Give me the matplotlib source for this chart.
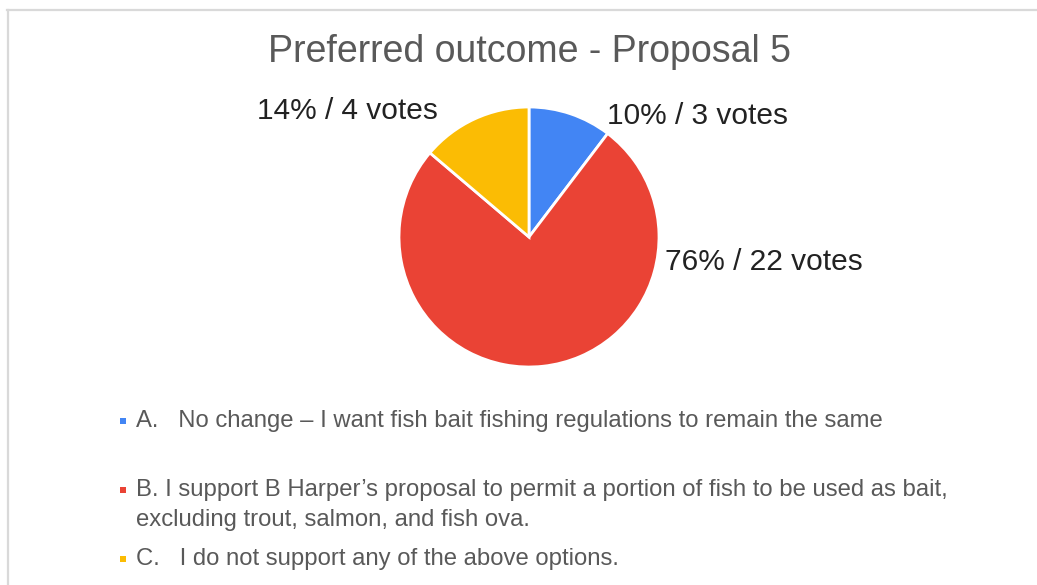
import matplotlib.pyplot as plt
from matplotlib.patches import Rectangle
from matplotlib.lines import Line2D

plt.rcParams['font.family'] = ['Liberation Sans', 'DejaVu Sans']

# survey results
options = ['A', 'B', 'C']
votes = [3, 22, 4]
colors = ['#4285F4', '#EA4335', '#FBBC04']
legend_text = [
    ['A.   No change \u2013 I want fish bait fishing regulations to remain the same'],
    ['B. I support B Harper\u2019s proposal to permit a portion of fish to be used as bait,',
     'excluding trout, salmon, and fish ova.'],
    ['C.   I do not support any of the above options.'],
]
title = 'Preferred outcome - Proposal 5'

W, H = 1037, 585
fig = plt.figure(figsize=(W / 100, H / 100), dpi=100)


def fx(x):
    return x / W


def fy(y):
    return 1 - y / H


# frame lines (top and left)
fig.add_artist(Line2D([fx(7), 1], [fy(10), fy(10)], color='#d9d9d9', lw=1.6))
fig.add_artist(Line2D([fx(8), fx(8)], [fy(10), 0], color='#d9d9d9', lw=1.6))

fig.text(fx(529), fy(52), title, ha='center', va='center',
         fontsize=27, color='#595959')

# pie, centre (529, 237), radius 130 px
cx, cy, r = 529, 237, 130
ax = fig.add_axes([fx(cx - r), fy(cy + r), 2 * r / W, 2 * r / H])
ax.pie(votes, colors=colors, startangle=90, counterclock=False, radius=1,
       wedgeprops=dict(edgecolor='white', linewidth=2))
ax.set_xlim(-1, 1)
ax.set_ylim(-1, 1)
ax.set_aspect('equal')
ax.axis('off')

total = sum(votes)
labels = [f'{round(v / total * 100)}% / {v} votes' for v in votes]
label_pos = [(607, 116, 'left'), (665, 262, 'left'), (438, 111, 'right')]
for lab, (x, y, ha) in zip(labels, label_pos):
    fig.text(fx(x), fy(y), lab, ha=ha, va='center', fontsize=21.5, color='#222222')

# legend
leg_y = [421, 490, 559]
for lines, c, y in zip(legend_text, colors, leg_y):
    fig.add_artist(Rectangle((fx(120), fy(y + 3)), 6 / W, 6 / H,
                             transform=fig.transFigure, color=c, lw=0))
    for i, line in enumerate(lines):
        fig.text(fx(136), fy(y + 30 * i), line, ha='left', va='center',
                 fontsize=17.2, color='#595959')

fig.savefig('out.png', dpi=100, facecolor='white')
